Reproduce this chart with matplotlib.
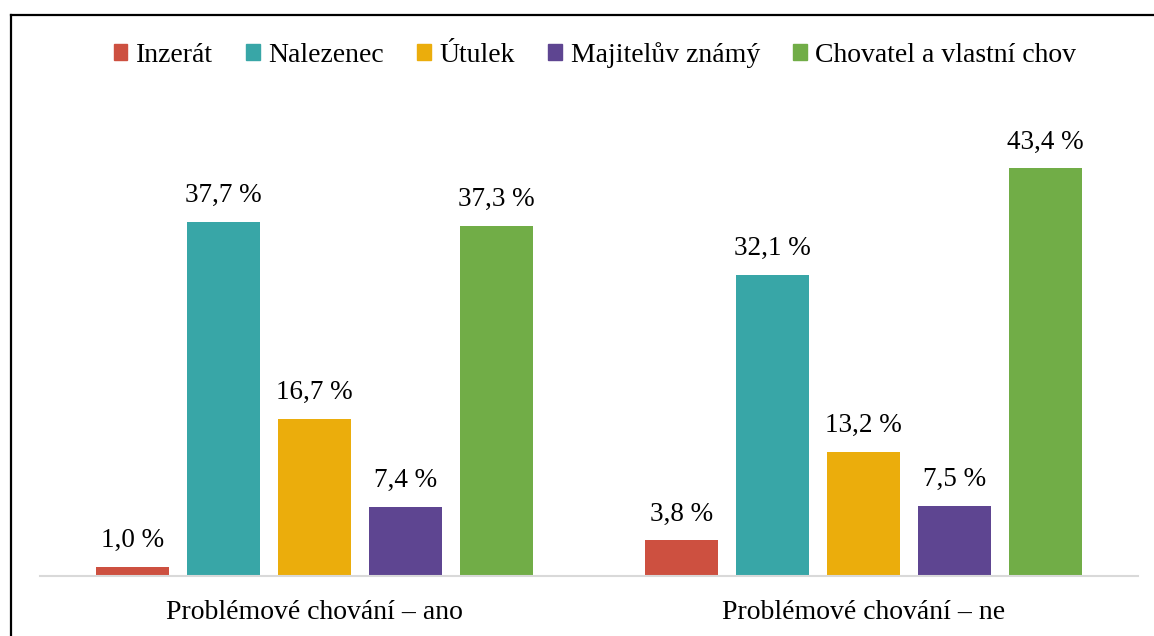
import matplotlib
matplotlib.use("Agg")
import matplotlib.pyplot as plt
import numpy as np
from matplotlib.lines import Line2D
from matplotlib.patches import Patch

plt.rcParams["font.family"] = ["Liberation Serif", "DejaVu Serif"]

categories = ["Problémové chování – ano", "Problémové chování – ne"]
series = ["Inzerát", "Nalezenec", "Útulek", "Majitelův známý", "Chovatel a vlastní chov"]
values = [
    [1.0, 3.8],
    [37.7, 32.1],
    [16.7, 13.2],
    [7.4, 7.5],
    [37.3, 43.4],
]
colors = ["#CD5040", "#38A6A7", "#EBAD0C", "#5E4591", "#71AD47"]

fig = plt.figure(figsize=(11.54, 6.36), dpi=100)
ax = fig.add_axes([40 / 1154, 1 - 576 / 636, 1098 / 1154, (576 - 106.5) / 636])

x = np.arange(len(categories))
width = 0.133
step = 0.166
for i, (name, vals, c) in enumerate(zip(series, values, colors)):
    pos = x + (i - 2) * step
    bars = ax.bar(pos, vals, width=width, color=c, label=name, zorder=2)
    for b, v in zip(bars, vals):
        ax.annotate(f"{v:.1f} %".replace(".", ","), (b.get_x() + b.get_width() / 2, v),
                    xytext=(0, 10), textcoords="offset points",
                    ha="center", va="bottom", fontsize=19.5)

ax.set_xlim(-0.5, 1.5)
ax.set_ylim(0, 50)
ax.set_yticks([])
ax.set_xticks(x)
ax.set_xticklabels(categories, fontsize=20)
ax.tick_params(axis="x", length=0, pad=17)
for s in ["top", "left", "right"]:
    ax.spines[s].set_visible(False)
ax.spines["bottom"].set_color("#D9D9D9")
ax.spines["bottom"].set_linewidth(1.5)

handles = [Patch(color=c, label=n) for n, c in zip(series, colors)]
fig.legend(handles=handles, loc="center", bbox_to_anchor=(595 / 1154, 1 - 55 / 636),
           ncol=5, frameon=False, fontsize=20, handlelength=0.5, handleheight=0.5,
           handletextpad=0.3, columnspacing=1.2)

# outer border (top and left only visible in the crop)
fig.add_artist(Line2D([11.5 / 1154, 1.0], [1 - 14.5 / 636, 1 - 14.5 / 636],
                      transform=fig.transFigure, color="black", lw=1.6))
fig.add_artist(Line2D([11.5 / 1154, 11.5 / 1154], [0, 1 - 14.5 / 636],
                      transform=fig.transFigure, color="black", lw=1.6))

fig.savefig("out.png", dpi=100)
